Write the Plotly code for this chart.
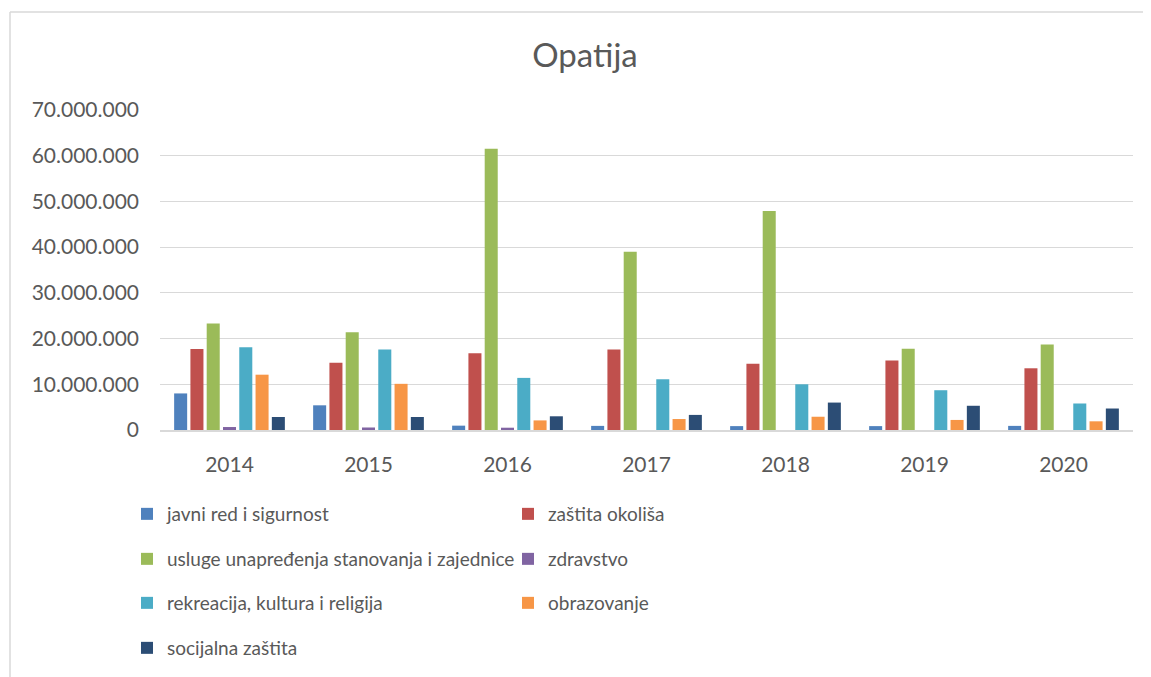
import plotly.graph_objects as go

years = ["2014", "2015", "2016", "2017", "2018", "2019", "2020"]

javni_red = [8000000, 5400000, 950000, 900000, 850000, 850000, 900000]
zastita_okolisa = [17700000, 14700000, 16800000, 17600000, 14500000, 15200000, 13500000]
usluge_stanovanja = [23300000, 21400000, 61500000, 39000000, 47900000, 17800000, 18700000]
zdravstvo = [650000, 550000, 500000, 0, 0, 0, 0]
rekreacija = [18100000, 17600000, 11400000, 11100000, 10000000, 8700000, 5800000]
obrazovanje = [12100000, 10100000, 2100000, 2400000, 2900000, 2200000, 1900000]
socijalna = [2850000, 2850000, 3000000, 3300000, 6000000, 5300000, 4700000]

series_names = [
    "javni red i sigurnost",
    "zaštita okoliša",
    "usluge unapređenja stanovanja i zajednice",
    "zdravstvo",
    "rekreacija, kultura i religija",
    "obrazovanje",
    "socijalna zaštita",
]
series_values = [javni_red, zastita_okolisa, usluge_stanovanja, zdravstvo,
                 rekreacija, obrazovanje, socijalna]
colors = ["#4F81BD", "#C0504D", "#9BBB59", "#8064A2", "#4BACC6", "#F79646", "#2C4D75"]
legend_ids = ["legend", "legend", "legend2", "legend2", "legend3", "legend3", "legend4"]

OFF = 8  # page body margin shifts the figure by 8px
W, H = 1151 - OFF, 677 - OFF
L, R, T, B = 160 - OFF, 1133 - OFF, 110 - OFF, 430 - OFF
pw, ph = R - L, B - T

def px_x(x):
    return (x - OFF - L) / pw

def px_y(y):
    return (B - (y - OFF)) / ph

font_family = "Lato, 'Open Sans', sans-serif"
txt_color = "#595959"

fig = go.Figure()
for name, vals, col, lg in zip(series_names, series_values, colors, legend_ids):
    fig.add_trace(go.Bar(x=years, y=vals, name=name, marker=dict(color=col, line=dict(width=0)),
                         legend=lg, hoverinfo="skip"))

legend_common = dict(
    orientation="h", xanchor="left", yanchor="middle", x=px_x(127),
    entrywidth=336, entrywidthmode="pixels",
    font=dict(family=font_family, size=19, color=txt_color),
    bgcolor="rgba(0,0,0,0)", borderwidth=0, itemclick=False, itemdoubleclick=False,
)

border = dict(color="#D9D9D9", width=1.5)

fig.update_layout(
    width=W, height=H,
    margin=dict(l=L, r=W - R, t=T, b=H - B, autoexpand=False),
    paper_bgcolor="white", plot_bgcolor="white",
    separators=",.",
    barmode="group", bargap=0.18, bargroupgap=0.2,
    title=dict(text="Opatija", x=(585 - OFF) / W, xanchor="center", y=(H - (55 - OFF)) / H,
               yanchor="middle", xref="container", yref="container",
               font=dict(family=font_family, size=33, color=txt_color)),
    font=dict(family=font_family, color=txt_color),
    legend=dict(legend_common, y=px_y(514)),
    legend2=dict(legend_common, y=px_y(559)),
    legend3=dict(legend_common, y=px_y(603)),
    legend4=dict(legend_common, y=px_y(648)),
    xaxis=dict(showgrid=False, showline=True, linecolor="#D9D9D9", linewidth=1.5,
               ticks="", ticklabelstandoff=15,
               tickfont=dict(family=font_family, size=21, color=txt_color)),
    yaxis=dict(range=[0, 70000000], dtick=10000000, tickformat=",d",
               showgrid=True, gridcolor="#D9D9D9", gridwidth=1.2,
               zeroline=False, showline=False, ticks="", ticklabelstandoff=20,
               tickfont=dict(family=font_family, size=21, color=txt_color)),
    shapes=[
        dict(type="line", xref="paper", yref="paper",
             x0=px_x(10), x1=px_x(1151 + 10), y0=px_y(12), y1=px_y(12), line=border, layer="below"),
        dict(type="line", xref="paper", yref="paper",
             x0=px_x(10), x1=px_x(10), y0=px_y(12), y1=px_y(677 + 10), line=border, layer="below"),
    ],
)

fig.write_html("out.html")
